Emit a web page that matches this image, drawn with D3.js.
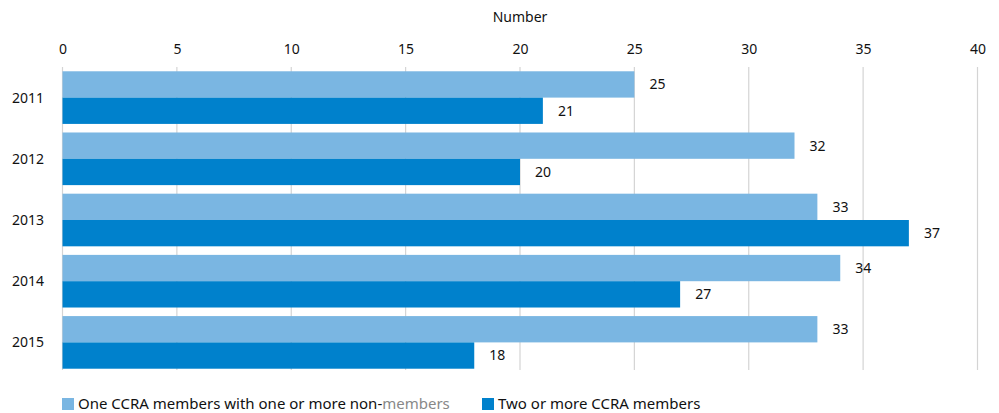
<!DOCTYPE html>
<html>
<head>
<meta charset="utf-8">
<script src="https://cdn.jsdelivr.net/npm/d3@7"></script>
<style>
  body { margin: 0; background: #fff; }
  svg text { font-family: "Noto Sans", "Open Sans", sans-serif; fill: #111; }
</style>
</head>
<body>
<div id="chart"></div>
<script>
const years = ["2011", "2012", "2013", "2014", "2015"];
const oneMember = [25, 32, 33, 34, 33];
const twoMembers = [21, 20, 37, 27, 18];
const ticks = [0, 5, 10, 15, 20, 25, 30, 35, 40];

const width = 999, height = 413;
const colours = ["#7ab6e2", "#0081cc"];

let svg = d3.select("#chart")
            .append("svg")
            .attr("width", width)
            .attr("height", height);

const x = d3.scaleLinear().domain([0, 40]).range([62.5, 977.5]);
const y = d3.scaleBand().domain(years).range([67, 373]).paddingInner(0.14).paddingOuter(0.07);

// grid lines
svg.selectAll(".grid")
   .data(ticks)
   .join("line")
   .attr("x1", d => x(d))
   .attr("x2", d => x(d))
   .attr("y1", 67)
   .attr("y2", 370)
   .attr("stroke", "#d4d4d4")
   .attr("stroke-width", 1.2);

// top axis
let axis = svg.append("g")
              .attr("transform", "translate(0,67)")
              .call(d3.axisTop(x).tickValues(ticks).tickSize(0).tickPadding(13));
axis.select(".domain").remove();
axis.selectAll("text").style("font-size", "14px").attr("fill", "#111");

svg.append("text")
   .attr("x", x(20))
   .attr("y", 22)
   .attr("text-anchor", "middle")
   .style("font-size", "14px")
   .text("Number");

// year labels
svg.selectAll(".year")
   .data(years)
   .join("text")
   .attr("x", 12)
   .attr("y", d => y(d) + y.bandwidth() / 2)
   .attr("dy", "0.35em")
   .style("font-size", "14px")
   .text(d => d);

const series = [oneMember, twoMembers];
const barH = y.bandwidth() / 2;

for (let s = 0; s < series.length; s++)
{
    let g = svg.append("g");
    g.selectAll("rect")
     .data(years)
     .join("rect")
     .attr("x", x(0))
     .attr("y", (d, i) => y(d) + s * barH)
     .attr("width", (d, i) => x(series[s][i]) - x(0))
     .attr("height", barH)
     .attr("fill", colours[s]);

    g.selectAll("text")
     .data(years)
     .join("text")
     .attr("x", (d, i) => x(series[s][i]) + 15)
     .attr("y", (d, i) => y(d) + s * barH + barH / 2)
     .attr("dy", "0.35em")
     .style("font-size", "14px")
     .text((d, i) => series[s][i]);
}

// legend
let legend = svg.append("g").attr("transform", "translate(0,404)");
legend.append("rect").attr("x", 62).attr("y", -6).attr("width", 12).attr("height", 12).attr("fill", colours[0]);
let t1 = legend.append("text").attr("x", 78).attr("dy", "0.35em").style("font-size", "15px");
t1.append("tspan").text("One CCRA members with one or more non-");
t1.append("tspan").attr("fill", "#888").text("members");
legend.append("rect").attr("x", 482).attr("y", -6).attr("width", 12).attr("height", 12).attr("fill", colours[1]);
legend.append("text").attr("x", 498).attr("dy", "0.35em").style("font-size", "15px").text("Two or more CCRA members");
</script>
</body>
</html>
